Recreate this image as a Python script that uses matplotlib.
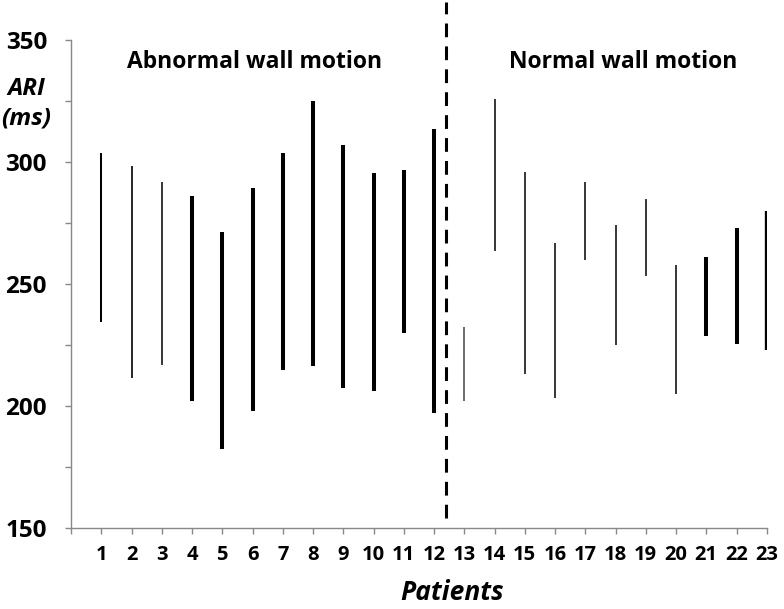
import matplotlib
matplotlib.use("Agg")
import matplotlib.pyplot as plt

# ARI range (min / max, ms) for each patient
patients = list(range(1, 24))
ari_max = [303.6, 298.6, 291.9, 286, 271.4, 289.2, 303.6, 325.1, 307, 295.5, 296.7, 313.4,
           232.3, 325.8, 295.8, 266.7, 291.9, 274.2, 284.8, 258, 261.2, 273.1, 280]
ari_min = [234.5, 211.5, 217, 202, 182.5, 197.8, 214.8, 216.4, 207.5, 206, 230, 197.3,
           202, 263.5, 213, 203.2, 259.8, 225, 253.5, 205, 228.8, 225.5, 223]

# line width in points per patient (thin / thick)
widths = [1.45, 1.2, 1.1, 2.9, 2.9, 2.9, 2.9, 2.9, 2.9, 2.9, 2.9, 2.9,
          1.1, 1.1, 1.1, 1.1, 1.1, 1.1, 1.1, 1.1, 2.9, 2.9, 3.1]
colors = ['black'] * 12 + ['#444444'] + ['black'] * 10

plt.rcParams['font.family'] = 'Open Sans'

fig = plt.figure(figsize=(7.84, 6.09), dpi=100)
ax = fig.add_axes([0.0906, 0.133, 0.8874, 0.801])

for p, lo, hi, w, c in zip(patients, ari_min, ari_max, widths, colors):
    ax.vlines(p, lo, hi, colors=c, linewidth=w, capstyle='butt')

# separator between groups
ax.plot([12.38, 12.38], [154, 365.5], color='black', linewidth=2.2,
        linestyle=(0, (4.5, 3)), clip_on=False)

ax.set_xlim(0, 23)
ax.set_ylim(150, 350)

ax.set_xticks(range(0, 24))
ax.set_xticklabels([''] + [str(p) for p in patients])
ax.set_yticks([150, 200, 250, 300, 350])
ax.set_yticks([175, 225, 275, 325], minor=True)

for s in ['top', 'right']:
    ax.spines[s].set_visible(False)
for s in ['left', 'bottom']:
    ax.spines[s].set_color('#888888')
    ax.spines[s].set_linewidth(1.0)

ax.tick_params(axis='both', which='both', direction='out', length=4, width=1, color='#888888')
ax.tick_params(axis='x', pad=8.5, labelsize=14.5)
ax.tick_params(axis='y', pad=13.3, labelsize=17.5)
for lbl in ax.get_xticklabels() + ax.get_yticklabels():
    lbl.set_fontweight('bold')

ax.text(0.264, 0.955, 'Abnormal wall motion', transform=ax.transAxes,
        ha='center', va='center', fontsize=16.5, fontweight='bold')
ax.text(0.794, 0.955, 'Normal wall motion', transform=ax.transAxes,
        ha='center', va='center', fontsize=16.5, fontweight='bold')

fig.text(26 / 784, 1 - 89 / 609, 'ARI', ha='center', va='center',
         fontsize=17.5, fontweight='bold', style='italic')
fig.text(26 / 784, 1 - 119 / 609, '(ms)', ha='center', va='center',
         fontsize=17.5, fontweight='bold', style='italic')
fig.text(452 / 784, 1 - 593 / 609, 'Patients', ha='center', va='center',
         fontsize=19, fontweight='bold', style='italic')

fig.savefig('out.png', dpi=100, facecolor='white')
